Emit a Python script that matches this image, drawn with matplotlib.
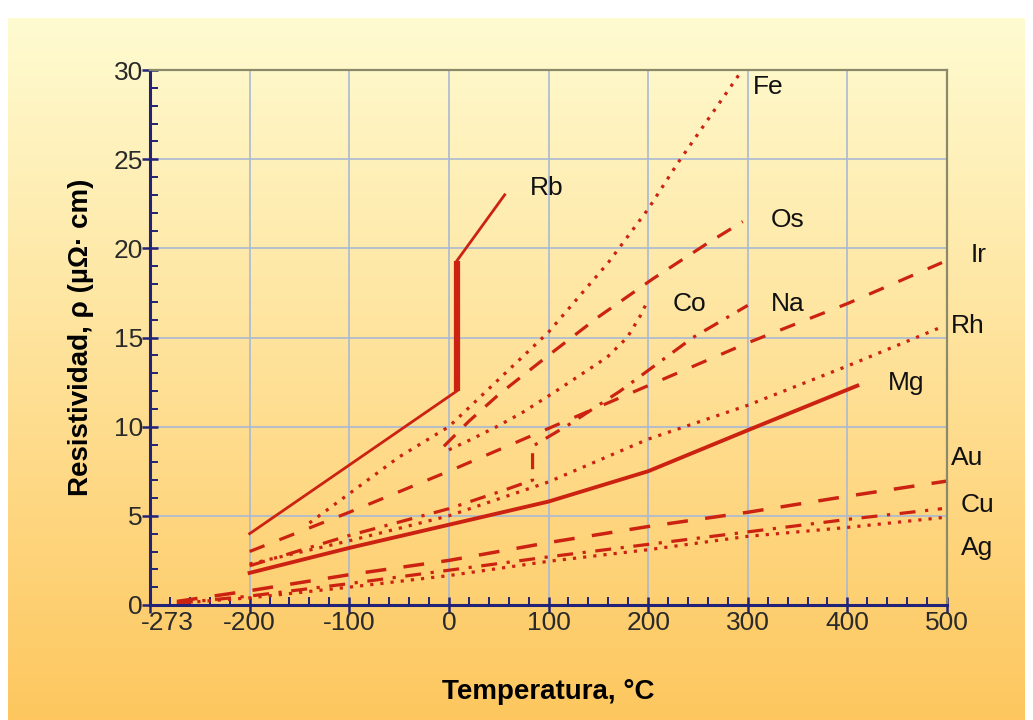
import numpy as np
import matplotlib
matplotlib.use("Agg")
import matplotlib.pyplot as plt
import matplotlib.transforms as mtrans

plt.rcParams['font.family'] = ['Liberation Sans', 'DejaVu Sans']

# datos (temperatura en °C, resistividad en µΩ·cm)
fe_t = [-140, -50, 0, 100, 160, 200, 230, 292]
fe_r = [4.6, 8.3, 10.0, 15.3, 19.2, 22.2, 24.8, 29.8]

os_t = [-5, 20, 50, 100, 150, 205, 260, 295]
os_r = [8.9, 10.3, 11.8, 14.0, 16.15, 18.3, 20.3, 21.5]

ir_t = [-200, -100, 0, 100, 200, 300, 400, 495]
ir_r = [3.0, 5.2, 7.5, 9.9, 12.3, 14.7, 16.9, 19.2]

rh_t = [-200, -100, 0, 100, 200, 300, 400, 495]
rh_r = [2.3, 3.6, 5.0, 6.9, 9.3, 11.2, 13.4, 15.6]

co_t = [0, 21, 48, 74, 105, 132, 159, 179, 192, 200]
co_r = [8.7, 9.25, 10.0, 10.8, 11.9, 12.9, 13.9, 15.0, 16.2, 17.1]

na_t = [-200, -100, 0, 56, 84, 84, 120, 172, 245, 300]
na_r = [2.2, 3.9, 5.4, 6.45, 7.0, 8.9, 10.1, 12.0, 15.0, 16.8]

mg_t = [-200, -100, 0, 100, 200, 300, 410]
mg_r = [1.8, 3.2, 4.5, 5.8, 7.5, 9.8, 12.3]

rb_t = [-200, 8, 8, 56]
rb_r = [4.0, 12.0, 19.3, 23.0]

au_t = [-273, -200, -100, 0, 100, 200, 300, 400, 500]
au_r = [0.2, 0.8, 1.7, 2.5, 3.5, 4.4, 5.2, 6.1, 6.95]

cu_t = [-273, -200, -100, 0, 100, 200, 300, 400, 495]
cu_r = [0.1, 0.5, 1.2, 1.95, 2.7, 3.4, 4.1, 4.8, 5.4]

ag_t = [-273, -200, -100, 0, 100, 200, 300, 400, 495]
ag_r = [0.1, 0.4, 1.0, 1.65, 2.45, 3.1, 3.85, 4.35, 4.9]

etiquetas = ['Fe', 'Rb', 'Os', 'Ir', 'Co', 'Na', 'Rh', 'Mg', 'Au', 'Cu', 'Ag']
etq_t = [305, 81, 323, 524, 225, 323, 504, 441, 504, 514, 514]
etq_r = [29.05, 23.4, 21.6, 19.6, 16.9, 16.9, 15.65, 12.45, 8.25, 5.6, 3.2]

xticks = [-300, -200, -100, 0, 100, 200, 300, 400, 500]
xlabels = ['-273', '-200', '-100', '0', '100', '200', '300', '400', '500']

rojo = '#cc2211'
azul = '#222277'

fig = plt.figure(figsize=(10.33, 7.2), dpi=100)
fig.patch.set_facecolor('white')

# fondo degradado amarillo -> naranja
bg = fig.add_axes([8/1033, 0, 1017/1033, 1 - 18/720], zorder=-1)
grad = np.linspace(0, 1, 256).reshape(-1, 1)
c_top = np.array([1.0, 0.985, 0.82])
c_bot = np.array([0.995, 0.78, 0.37])
img = c_top + (c_bot - c_top) * grad[:, :, None]
bg.imshow(img, aspect='auto', extent=[0, 1, 0, 1])
bg.axis('off')

ax = fig.add_axes([150/1033, 1 - 605/720, 797/1033, 535/720])
ax.set_facecolor('none')

ax.plot(fe_t, fe_r, color=rojo, lw=2.3, ls=(0, (1, 2.2)))
ax.plot(os_t, os_r, color=rojo, lw=2.3, ls=(0, (5, 4)))
ax.plot(ir_t, ir_r, color=rojo, lw=2.3, ls=(0, (5, 5)))
ax.plot(rh_t, rh_r, color=rojo, lw=2.3, ls=(0, (1, 2.2)))
ax.plot(co_t, co_r, color=rojo, lw=2.3, ls=(0, (1, 2.2)))
ax.plot(na_t, na_r, color=rojo, lw=2.3, ls=(0, (5, 3, 1, 3)))
ax.plot(mg_t, mg_r, color=rojo, lw=2.8)
ax.plot(rb_t[:2], rb_r[:2], color=rojo, lw=2.0)
ax.plot(rb_t[1:3], rb_r[1:3], color=rojo, lw=4.5, solid_capstyle='butt')
ax.plot(rb_t[2:], rb_r[2:], color=rojo, lw=2.0)
ax.plot(au_t, au_r, color=rojo, lw=2.5, ls=(0, (6, 5)))
ax.plot(cu_t, cu_r, color=rojo, lw=2.3, ls=(0, (5, 3, 1, 3)))
ax.plot(ag_t, ag_r, color=rojo, lw=2.3, ls=(0, (1, 2.2)))

for txt, t, r in zip(etiquetas, etq_t, etq_r):
    ax.text(t, r, txt, fontsize=19, ha='left', va='center', color='#111111', clip_on=False)

ax.set_xlim(-300, 500)
ax.set_ylim(0, 30)
ax.set_xticks(xticks)
ax.set_xticklabels(xlabels)
ax.set_xticks(np.arange(-300, 501, 20), minor=True)
ax.set_yticks(np.arange(0, 31, 5))
ax.set_yticks(np.arange(0, 31, 1), minor=True)
ax.grid(True, which='major', color='#a9b9d3', lw=1.2)
ax.tick_params(which='major', direction='inout', length=12, width=1.8, color=azul,
               labelsize=19, labelcolor='#2a2a2a')
ax.tick_params(axis='x', which='major', pad=-2)
ax.tick_params(axis='y', which='major', pad=-1)
ax.tick_params(which='minor', direction='in', length=6, width=1.4, color=azul)

# la etiqueta -273 va corrida a la derecha del eje
lab0 = ax.get_xticklabels()[0]
lab0.set_transform(lab0.get_transform() + mtrans.ScaledTranslation(17/100, 0, fig.dpi_scale_trans))

for s in ['left', 'bottom']:
    ax.spines[s].set_color(azul)
    ax.spines[s].set_linewidth(2.2)
for s in ['top', 'right']:
    ax.spines[s].set_color('#8a8a6a')
    ax.spines[s].set_linewidth(1.6)

ax.set_xlabel('Temperatura, °C', fontsize=20, fontweight='bold', labelpad=32)
ax.set_ylabel('Resistividad, ρ (µΩ· cm)', fontsize=20, fontweight='bold', labelpad=14)

fig.savefig('out.png', dpi=100)
